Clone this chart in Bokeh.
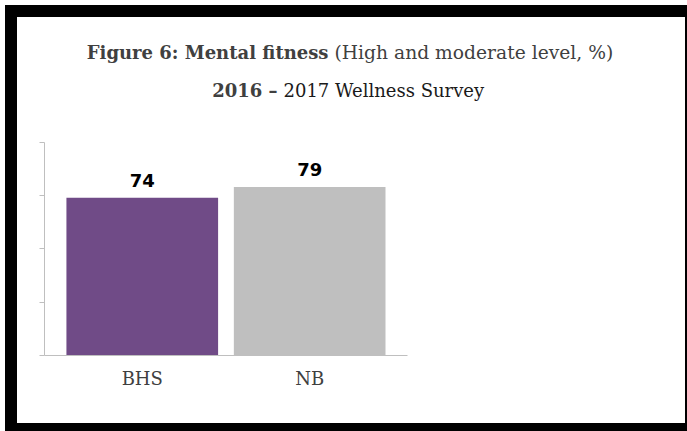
from bokeh.plotting import figure
from bokeh.models import (ColumnDataSource, Range1d, FixedTicker, Label)
from bokeh.layouts import column
from bokeh.core.properties import value
from bokeh.embed import file_html
from bokeh.resources import INLINE

# ---- data ----
categories = ["BHS", "NB"]
values = [74, 79]
bar_colors = ["#704B87", "#BFBFBF"]
y_ticks = [0, 25, 50, 75, 100]
title_bold = "Figure 6: Mental fitness"
title_rest = "(High and moderate level, %)"
sub_bold = "2016 \u2013"
sub_rest = "2017 Wellness Survey"

SERIF = "DejaVu Serif"
SANS = "DejaVu Sans"

# category slot positions derived from the order of the categories
xpos = [i + 0.5 for i in range(len(categories))]
PAD = 0.084

src = ColumnDataSource(dict(x=xpos, val=values, color=bar_colors,
                            lab=[str(v) for v in values]))

p = figure(width=668, height=406, output_backend="svg", toolbar_location=None,
           x_range=Range1d(-PAD, 3.745), y_range=Range1d(0, 158.45),
           min_border_left=27, min_border_right=0,
           min_border_top=0, min_border_bottom=68)
p.background_fill_color = "white"
p.border_fill_color = "white"
p.outline_line_color = None
p.xgrid.grid_line_color = None
p.ygrid.grid_line_color = None

p.vbar(x="x", top="val", bottom=0, width=0.906, color="color",
       line_color=None, source=src)
p.text(x="x", y="val", text="lab", source=src, text_align="center",
       text_baseline="alphabetic", y_offset=-17,
       text_font=value(SANS), text_font_style="bold",
       text_font_size="18px", text_color="black")

# y axis: line and ticks only, from 0 to 100
yax = p.yaxis[0]
yax.ticker = FixedTicker(ticks=y_ticks)
yax.bounds = (y_ticks[0], y_ticks[-1])
yax.major_label_overrides = {t: "" for t in y_ticks}
yax.major_tick_out = 5
yax.major_tick_in = 0
yax.minor_tick_line_color = None
yax.axis_line_color = "#BFBFBF"
yax.major_tick_line_color = "#BFBFBF"

# x axis: category names
xax = p.xaxis[0]
xax.ticker = FixedTicker(ticks=xpos)
xax.bounds = (-PAD, len(categories) + PAD)
xax.major_label_overrides = {x: c for x, c in zip(xpos, categories)}
xax.axis_line_color = "#BFBFBF"
xax.major_tick_line_color = None
xax.minor_tick_line_color = None
xax.major_label_text_font = SERIF
xax.major_label_text_font_size = "18px"
xax.major_label_text_color = "#404040"
xax.major_label_standoff = 6

# titles (screen units, relative to the plot frame)
lab_kw = dict(x_units="screen", y_units="screen", text_baseline="alphabetic",
              text_font=SERIF)
p.add_layout(Label(x=284, y=303, text=title_bold, text_align="right",
                   text_font_style="bold", text_font_size="18px",
                   text_color="#404040", **lab_kw))
p.add_layout(Label(x=290, y=303, text=title_rest, text_align="left",
                   text_font_size="18.7px", text_color="#404040", **lab_kw))
p.add_layout(Label(x=233, y=265, text=sub_bold, text_align="right",
                   text_font_style="bold", text_font_size="18px",
                   text_color="#404040", **lab_kw))
p.add_layout(Label(x=239, y=265, text=sub_rest, text_align="left",
                   text_font_size="18px", text_color="#1A1A1A", **lab_kw))

layout = column(p, spacing=0, styles={
    "border-style": "solid",
    "border-color": "black",
    "border-width": "12px 2px 8px 12px",
    "margin-left": "5px",
    "margin-top": "5px",
    "background-color": "white",
})

open("out.html", "w").write(file_html(layout, INLINE))
